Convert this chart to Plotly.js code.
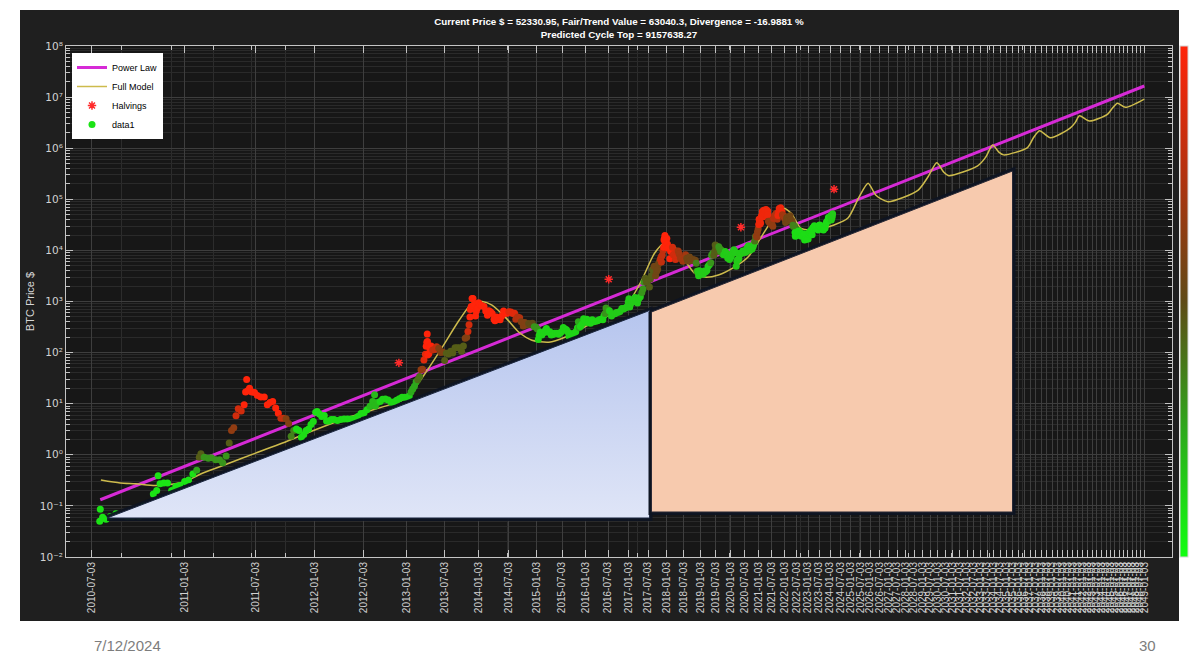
<!DOCTYPE html>
<html><head><meta charset="utf-8">
<script src="https://cdn.plot.ly/plotly-3.0.1.min.js"></script>
<style>html,body{margin:0;padding:0;background:#fff;}#chart{width:1199px;height:660px;}</style>
</head><body><div id="chart"></div>
<script>
const GENESIS = '2009-01-03';

const tickDates = ['2010-07-03','2011-01-03','2011-07-03','2012-01-03','2012-07-03','2013-01-03','2013-07-03','2014-01-03','2014-07-03','2015-01-03','2015-07-03','2016-01-03','2016-07-03','2017-01-03','2017-07-03','2018-01-03','2018-07-03','2019-01-03','2019-07-03','2020-01-03','2020-07-03','2021-01-03','2021-07-03','2022-01-03','2022-07-03','2023-01-03','2023-07-03','2024-01-03','2024-07-03','2025-01-03','2025-07-03','2026-01-03','2026-07-03','2027-01-03','2027-07-03','2028-01-03','2028-07-03','2029-01-03','2029-07-03','2030-01-03','2030-07-03','2031-01-03','2031-07-03','2032-01-03','2032-07-03','2033-01-03','2033-07-03','2034-01-03','2034-07-03','2035-01-03','2035-07-03','2036-01-03','2036-07-03','2037-01-03','2037-07-03','2038-01-03','2038-07-03','2039-01-03','2039-07-03','2040-01-03','2040-07-03','2041-01-03','2041-07-03','2042-01-03','2042-07-03','2043-01-03','2043-07-03','2044-01-03','2044-07-03','2045-01-03','2045-07-03','2046-01-03','2046-07-03','2047-01-03','2047-07-03','2048-01-03','2048-07-03','2049-01-03'];

const yTickVals = [1e-2,1e-1,1e0,1e1,1e2,1e3,1e4,1e5,1e6,1e7,1e8];
const yTickText = ['10⁻²','10⁻¹','10⁰','10¹','10²','10³','10⁴','10⁵','10⁶','10⁷','10⁸'];

const btcDates = [
'2010-07-17','2010-07-18','2010-07-22','2010-07-28','2010-08-05','2010-08-15','2010-08-25','2010-09-05','2010-09-15','2010-09-28','2010-10-07','2010-10-17','2010-10-27','2010-11-03','2010-11-06','2010-11-10','2010-11-18','2010-11-26','2010-12-05','2010-12-14','2010-12-23',
'2011-01-03','2011-01-12','2011-01-22','2011-01-31','2011-02-06','2011-02-10','2011-02-18','2011-02-28','2011-03-08','2011-03-18','2011-03-28','2011-04-05','2011-04-14','2011-04-22','2011-04-28','2011-05-04','2011-05-10','2011-05-16','2011-05-24','2011-06-01','2011-06-05','2011-06-08','2011-06-11','2011-06-16','2011-06-22','2011-06-30','2011-07-08','2011-07-18','2011-07-28','2011-08-06','2011-08-14','2011-08-22','2011-08-31','2011-09-08','2011-09-16','2011-09-24','2011-10-02','2011-10-10','2011-10-18','2011-10-26','2011-11-04','2011-11-12','2011-11-20','2011-11-28','2011-12-06','2011-12-14','2011-12-22','2011-12-30',
'2012-01-07','2012-01-12','2012-01-20','2012-01-28','2012-02-06','2012-02-14','2012-02-22','2012-03-02','2012-03-12','2012-03-24','2012-04-05','2012-04-18','2012-05-01','2012-05-14','2012-05-28','2012-06-10','2012-06-22','2012-07-04','2012-07-16','2012-07-28','2012-08-08','2012-08-16','2012-08-19','2012-08-28','2012-09-08','2012-09-18','2012-09-30','2012-10-12','2012-10-25','2012-11-06','2012-11-18','2012-11-30','2012-12-12','2012-12-24',
'2013-01-05','2013-01-14','2013-01-22','2013-01-30','2013-02-07','2013-02-15','2013-02-23','2013-03-03','2013-03-10','2013-03-17','2013-03-24','2013-03-31','2013-04-04','2013-04-07','2013-04-09','2013-04-10','2013-04-11','2013-04-14','2013-04-17','2013-04-22','2013-04-28','2013-05-06','2013-05-15','2013-05-25','2013-06-05','2013-06-15','2013-06-25','2013-07-05','2013-07-14','2013-07-25','2013-08-05','2013-08-16','2013-08-28','2013-09-08','2013-09-20','2013-10-02','2013-10-12','2013-10-22','2013-10-30','2013-11-06','2013-11-12','2013-11-17','2013-11-19','2013-11-24','2013-11-29','2013-12-04','2013-12-08','2013-12-12','2013-12-18','2013-12-23','2013-12-29',
'2014-01-05','2014-01-15','2014-01-25','2014-02-05','2014-02-15','2014-02-25','2014-03-05','2014-03-15','2014-03-25','2014-04-05','2014-04-11','2014-04-20','2014-05-01','2014-05-12','2014-05-22','2014-06-02','2014-06-12','2014-06-24','2014-07-05','2014-07-18','2014-07-30','2014-08-10','2014-08-18','2014-08-30','2014-09-12','2014-09-22','2014-10-05','2014-10-15','2014-10-28','2014-11-10','2014-11-22','2014-12-05','2014-12-18','2014-12-30',
'2015-01-08','2015-01-14','2015-01-20','2015-01-28','2015-02-08','2015-02-20','2015-03-05','2015-03-12','2015-03-25','2015-04-05','2015-04-15','2015-04-28','2015-05-10','2015-05-25','2015-06-08','2015-06-20','2015-07-01','2015-07-12','2015-07-25','2015-08-05','2015-08-18','2015-08-24','2015-09-05','2015-09-18','2015-10-01','2015-10-15','2015-10-28','2015-11-04','2015-11-11','2015-11-20','2015-12-02','2015-12-15','2015-12-28',
'2016-01-10','2016-01-16','2016-01-26','2016-02-08','2016-02-22','2016-03-05','2016-03-20','2016-04-05','2016-04-20','2016-05-05','2016-05-20','2016-05-30','2016-06-08','2016-06-16','2016-06-22','2016-07-01','2016-07-15','2016-08-02','2016-08-15','2016-09-01','2016-09-15','2016-10-01','2016-10-15','2016-11-01','2016-11-15','2016-12-01','2016-12-15','2016-12-28',
'2017-01-04','2017-01-11','2017-01-20','2017-02-01','2017-02-15','2017-03-01','2017-03-10','2017-03-24','2017-04-05','2017-04-20','2017-05-04','2017-05-15','2017-05-25','2017-06-06','2017-06-15','2017-06-25','2017-07-05','2017-07-16','2017-07-25','2017-08-05','2017-08-15','2017-08-25','2017-09-01','2017-09-14','2017-09-25','2017-10-05','2017-10-13','2017-10-22','2017-11-01','2017-11-08','2017-11-12','2017-11-20','2017-11-28','2017-12-05','2017-12-08','2017-12-12','2017-12-17','2017-12-22','2017-12-30',
'2018-01-06','2018-01-12','2018-01-17','2018-01-28','2018-02-06','2018-02-14','2018-02-20','2018-03-05','2018-03-15','2018-03-25','2018-04-06','2018-04-15','2018-04-24','2018-05-05','2018-05-15','2018-05-28','2018-06-10','2018-06-24','2018-07-10','2018-07-24','2018-08-05','2018-08-14','2018-08-28','2018-09-05','2018-09-12','2018-09-25','2018-10-10','2018-10-25','2018-11-08','2018-11-18','2018-11-25','2018-12-05','2018-12-15','2018-12-24',
'2019-01-05','2019-01-20','2019-02-05','2019-02-20','2019-03-05','2019-03-20','2019-04-03','2019-04-20','2019-05-05','2019-05-14','2019-05-28','2019-06-10','2019-06-20','2019-06-26','2019-07-02','2019-07-10','2019-07-20','2019-07-30','2019-08-08','2019-08-20','2019-08-30','2019-09-10','2019-09-25','2019-10-08','2019-10-26','2019-11-10','2019-11-25','2019-12-10','2019-12-18','2019-12-30',
'2020-01-10','2020-01-20','2020-02-01','2020-02-12','2020-02-25','2020-03-05','2020-03-12','2020-03-20','2020-04-01','2020-04-15','2020-04-29','2020-05-10','2020-05-25','2020-06-05','2020-06-20','2020-07-05','2020-07-20','2020-07-28','2020-08-10','2020-08-18','2020-09-01','2020-09-08','2020-09-20','2020-10-05','2020-10-20','2020-10-30','2020-11-10','2020-11-20','2020-12-01','2020-12-10','2020-12-17','2020-12-27',
'2021-01-03','2021-01-08','2021-01-15','2021-01-22','2021-01-30','2021-02-08','2021-02-15','2021-02-21','2021-02-28','2021-03-08','2021-03-13','2021-03-22','2021-04-01','2021-04-14','2021-04-25','2021-05-08','2021-05-12','2021-05-19','2021-05-30','2021-06-10','2021-06-22','2021-07-05','2021-07-20','2021-07-30','2021-08-14','2021-08-22','2021-09-06','2021-09-21','2021-10-01','2021-10-12','2021-10-20','2021-11-01','2021-11-10','2021-11-20','2021-11-30','2021-12-06','2021-12-20','2021-12-30',
'2022-01-10','2022-01-22','2022-02-05','2022-02-10','2022-02-24','2022-03-10','2022-03-29','2022-04-12','2022-04-30','2022-05-10','2022-05-20','2022-06-05','2022-06-13','2022-06-18','2022-07-01','2022-07-15','2022-07-30','2022-08-14','2022-08-25','2022-09-10','2022-09-20','2022-10-05','2022-10-25','2022-11-05','2022-11-09','2022-11-20','2022-12-05','2022-12-20',
'2023-01-05','2023-01-14','2023-01-25','2023-02-10','2023-02-16','2023-03-01','2023-03-10','2023-03-18','2023-04-01','2023-04-14','2023-04-28','2023-05-12','2023-05-28','2023-06-15','2023-06-23','2023-07-05','2023-07-13','2023-07-28','2023-08-17','2023-09-01','2023-09-11','2023-09-28','2023-10-10','2023-10-23','2023-11-01','2023-11-15','2023-11-28','2023-12-05','2023-12-15','2023-12-28',
'2024-01-08','2024-01-11','2024-01-23','2024-02-02','2024-02-09','2024-02-14'];

const btcPrices = [
0.05,0.086,0.06,0.055,0.062,0.07,0.065,0.061,0.062,0.062,0.10,0.10,0.17,0.2,0.39,0.27,0.28,0.28,0.2,0.24,0.25,
0.3,0.32,0.42,0.5, 0.9,1.05,0.9,0.86, 0.88,0.8,0.8, 0.7,0.95,1.7,3.0, 3.4,5.8,8,7.2, 9.5,17,29.6,18,20,17,16.5, 14.5,13.6,13.5, 9.5,10.5,11,8.2, 6.5,5.2,5.2, 5.1,4.1,2.3,3.0, 3.2,3.0,2.2,2.5, 3.0,3.2,3.9,4.5,
6.8,7,6.3,5.6, 5.9,4.6,4.6, 4.9,4.9,4.7, 4.9,5.0, 5.0,5.0,5.1, 5.6,6.4, 6.6,7.6,8.9, 11,15,9,10.6, 11,12.2,12.4, 11.8,10.7, 10.8,11.7,12.5, 13.3,13.4,
13.4,14.2,17,19.5, 22,27,29.5, 34,46,47,72,93, 133,160,230,165,90,95,95,120,135, 112,115,130, 121,100,103, 70,97,94, 106,98,125, 125,125, 106,135,190,200, 260,350,500,700,800,1150, 1140,800,880,520,650,750,
950,850,830, 800,650,540, 660,630,580, 450,420,500, 450,440,520, 650,590,590, 630,620,580, 590,450,500, 480,400, 330,390,350, 370,350, 375,320,315,
290,180,215,250, 220,245, 275,295,250, 255,220,225, 240,238, 228,245, 258,310,290, 280,250,210, 235,232, 237,255,305, 400,310,325, 360,460,420,
450,390,395, 375,440, 400,410, 420,440, 450,440,530, 580,750,600, 680,660, 520,570, 575,610, 615,640, 730,710, 750,780,975,
1130,780,900, 985,1000, 1200,1100,930, 1130,1240, 1500,1750,2400, 2850,2400,2550, 2600,1930,2750, 3200,4200,4350, 4900,3200,3900, 4300,5400,6000, 6700,7400,5900,8000,9900, 11500,16000,17000,19500,13800,12600,
17100,13400,11200,11500, 6900,9500,11200, 11500,8200,8500, 6600,8000,9600, 9700,8500,7100, 6800,6100, 6400,8200, 7000,6200,7100, 7400,6300,6500, 6600,6500, 6400,5600,3900, 3900,3200,4000,
3800,3600, 3400,3950, 3800,4050, 4900,5300, 5700,8000,8700, 8000,9500,12800, 10600,12300,10500,9500, 11800,10800,9600, 10100,8400, 8200,9500, 8800,7100, 7300,6600,7200,
7800,8700, 9400,10300,9300, 9000,4900,6200, 6600,6900,8800, 8700,8800, 9700,9300, 9100,9400,11000, 11800,12300, 11900,10100,10900, 10700,11900,13600, 15300,18700, 19200,18300,22800,26300,
32000,40600,36800,33000,34300, 46200,48700,57500,45100, 52300,61200,54500, 58700,63500,49000, 58900,49500,37000,35600, 37000,32500, 34000,29800,42000, 47000,49300, 52700,40600, 48000,57000,66000, 61000,68000,59000,57000, 50000,46600,47100,
41800,35000, 41500,44000,38300, 39000,47400, 40000,37700, 31000,29200, 29900,22500,19000, 19300,20800,23600, 24300,21500, 21700,18900, 20300,19300, 21200,16000,16300, 17100,16800,
16800,20900,23000, 21800,24500, 23600,20200,27400, 28500,30400,29300, 26800,28000, 25100,30500, 30500,31400,29300, 26600, 25900,25100,27000, 27400,33000, 35400,37800,37800, 44000,43000,42600,
47000,46600,39500,43200,47100,52300];

// colour (divergence): start date of each segment and its value (0 green .. 1 red)
const heatStart = ['2010-07-01','2011-01-25','2011-02-04','2011-02-16','2011-04-18','2011-04-26','2011-05-08','2011-05-30','2011-09-10','2011-10-01','2011-10-16','2011-11-01','2012-07-25','2012-09-01','2013-01-20','2013-02-20','2013-03-08','2013-03-22','2013-04-03','2013-05-01','2013-06-01','2013-07-01','2013-10-15','2013-11-05','2013-11-15','2014-07-01','2014-08-15','2014-09-20','2014-11-01','2014-12-10','2015-01-10','2015-11-01','2015-11-15','2016-06-01','2016-07-10','2017-05-01','2017-06-01','2017-09-01','2017-11-01','2017-12-01','2018-03-01','2018-05-01','2018-08-01','2018-11-15','2018-12-01','2019-05-01','2019-06-01','2019-08-01','2019-10-01','2020-11-01','2020-12-01','2021-01-01','2021-05-15','2021-07-25','2021-10-01','2021-12-01','2022-01-15','2022-05-01','2022-06-10','2024-01-01'];
const heatValue = [0.08,0.25,0.45,0.3,0.45,0.65,0.85,1.0,0.8,0.6,0.35,0.1,0.2,0.12,0.25,0.4,0.65,0.9,1.0,0.8,0.6,0.45,0.6,0.85,1.0,0.9,0.75,0.6,0.5,0.3,0.12,0.25,0.12,0.3,0.15,0.3,0.45,0.55,0.8,1.0,0.85,0.7,0.55,0.35,0.15,0.3,0.45,0.3,0.15,0.4,0.65,0.95,0.65,0.75,0.95,0.7,0.55,0.35,0.1,0.15];

// power law (days since genesis, price)
const powerDays = [561, 14610];
const powerPrices = [0.132, 1.65e7];

// full model curve (days since genesis, price)
const modelDays = [562,597,627,667,726,773,840,911,991,1098,1222,1383,1441,1500,1557,1632,1720,1792,1848,1906,1985,2073,2159,2276,2393,2523,2660,2796,2921,3041,3166,3266,3371,3477,3586,3701,3865,4062,4243,4419,4601,4732,4852,5005,5277,5545,5792,5995,6167,6320,6562,7205,7430,7642,7810,7934,8682,8900,9099,9268,9417,10146,10335,10534,10900,11600,11780,11930,12308,13020,13215,13435,13774,14610];
const modelPrices = [0.32,0.28,0.27,0.25,0.29,0.44,0.69,1.08,1.7,3.1,5.5,9.5,11.8,21,45,128,430,930,1000,850,500,250,175,160,200,300,430,610,970,2600,8800,14000,11700,6500,3600,3000,3300,4700,7500,18400,45000,67000,53000,27000,26000,31500,43000,110000,207000,120000,90000,150000,270000,520000,340000,290000,450000,660000,1160000,850000,740000,1030000,1600000,2200000,1600000,2500000,3200000,4300000,3400000,4600000,6000000,7600000,6300000,9160000];

const halvingDates = ['2012-11-28','2016-07-09','2020-05-11','2024-03-10'];
const halvingPrices = [63, 2720, 28300, 158000];

// slide overlays (days since genesis, price)
const triDays = [573, 3117, 3117];
const triPrices = [0.058, 667, 0.058];
const peachDays = [3136, 9681, 9681, 3136];
const peachPrices = [623, 358000, 0.076, 0.076];

const g0 = Date.parse(GENESIS);
const toDays = d => (Date.parse(d) - g0) / 86400000;
const btcX = btcDates.map(toDays);
const heatX = heatStart.map(toDays);
const btcHeat = btcX.map(x => { let v = heatValue[0]; for (let i = 0; i < heatX.length; i++) { if (heatX[i] <= x) v = heatValue[i]; } return v; });
const tickVals = tickDates.map(toDays);

const xMinor = [600,700,800,900,1000,2000,3000,4000,5000,6000,7000,8000,9000,10000];
const yMinor = [];
for (let e = -2; e < 8; e++) for (let k = 2; k <= 9; k++) yMinor.push(k * Math.pow(10, e));

const closeRing = a => a.concat([a[0]]);

const heatScale = [[0,'#12ff12'],[0.25,'#2ea81c'],[0.5,'#5f4a16'],[0.75,'#b3320f'],[1,'#ff240a']];

const traces = [
  {type:'scatter', mode:'lines', name:'Power Law', x:powerDays, y:powerPrices,
   line:{color:'#d62ad6', width:3}, hoverinfo:'skip'},
  {type:'scatter', mode:'lines', name:'Full Model', x:modelDays, y:modelPrices,
   line:{color:'#cdbb4c', width:1.5, shape:'spline', smoothing:0.7}, hoverinfo:'skip'},
  {type:'scatter', mode:'markers', name:'Halvings', x:halvingDates.map(toDays), y:halvingPrices,
   marker:{symbol:'asterisk-open', size:7, color:'#ff2b2b', line:{color:'#ff2b2b', width:1.5}}},
  {type:'scatter', mode:'markers', name:'data1', x:btcX, y:btcPrices,
   marker:{size:7, color:btcHeat, cmin:0, cmax:1, colorscale:heatScale,
     colorbar:{x:(1180-66)/1106, xref:'paper', xanchor:'left', y:0, yref:'paper', yanchor:'bottom',
       len:1, lenmode:'fraction', thickness:8, thicknessmode:'pixels', outlinewidth:1, outlinecolor:'#d6d6d6',
       showticklabels:false, ticks:'', xpad:0, ypad:0, borderwidth:0, bgcolor:'rgba(0,0,0,0)'}}},
  {type:'scatter', mode:'lines', x:closeRing(triDays), y:closeRing(triPrices), showlegend:false, hoverinfo:'skip',
   line:{color:'rgba(14,20,34,0.95)', width:6}},
  {type:'scatter', mode:'lines', x:closeRing(triDays), y:closeRing(triPrices), fill:'toself', showlegend:false, hoverinfo:'skip',
   fillcolor:'#cdd7f2', fillgradient:{type:'vertical', colorscale:[[0,'#dfe5f7'],[1,'#b6c5ee']]},
   line:{color:'#1d2840', width:1}},
  {type:'scatter', mode:'lines', x:closeRing(peachDays), y:closeRing(peachPrices), showlegend:false, hoverinfo:'skip',
   line:{color:'rgba(14,20,34,0.95)', width:6}},
  {type:'scatter', mode:'lines', x:closeRing(peachDays), y:closeRing(peachPrices), fill:'toself', showlegend:false, hoverinfo:'skip',
   fillcolor:'#f7caae', line:{color:'#2a2a36', width:1}}
];

const axisCommon = {
  showline:true, linecolor:'#c4c4c4', linewidth:1, mirror:'allticks',
  ticks:'inside', ticklen:7, tickcolor:'#c4c4c4', tickwidth:1,
  showgrid:true, gridcolor:'#3e3e3e', gridwidth:1, zeroline:false, automargin:false,
  tickfont:{family:'Liberation Sans, DejaVu Sans, Arial, sans-serif', size:10, color:'#d2d2d2'}
};

const layout = {
  width:1199, height:660,
  margin:{l:66, r:27, t:46, b:103, pad:0, autoexpand:false},
  paper_bgcolor:'#ffffff', plot_bgcolor:'#171717',
  font:{family:'Liberation Sans, Arial, sans-serif', color:'#d2d2d2'},
  title:{text:'Current Price $ = 52330.95, Fair/Trend Value = 63040.3, Divergence = -16.9881 %<br>Predicted Cycle Top = 9157638.27',
    font:{family:'Liberation Sans, Arial, sans-serif', size:9.8, color:'#ffffff', weight:'bold'},
    x:0.5, xref:'paper', xanchor:'center', y:1-25/660, yref:'container', yanchor:'bottom', pad:{b:0, t:0, l:0, r:0}, automargin:false},
  xaxis: Object.assign({}, axisCommon, {type:'log', range:[Math.log10(504), Math.log10(15930)],
    tickmode:'array', tickvals:tickVals, ticktext:tickDates, tickangle:-90,
    minor:{tickmode:'array', tickvals:xMinor, ticks:'inside', ticklen:4, tickcolor:'#c4c4c4', showgrid:true, gridcolor:'#2c2c2c'}}),
  yaxis: Object.assign({}, axisCommon, {type:'log', range:[-2, 8],
    tickmode:'array', tickvals:yTickVals, ticktext:yTickText,
    tickfont:{family:'DejaVu Sans, Liberation Sans, Arial, sans-serif', size:10.5, color:'#d2d2d2'},
    minor:{tickmode:'array', tickvals:yMinor, ticks:'inside', ticklen:4, tickcolor:'#c4c4c4', showgrid:true, gridcolor:'#2a2a2a'},
    title:{text:'BTC Price $', font:{size:11, color:'#d6d6d6'}, standoff:2}}),
  showlegend:true,
  legend:{x:(72-66)/1106, y:(557-53)/511, xanchor:'left', yanchor:'top', bgcolor:'#ffffff', borderwidth:0,
    font:{family:'Liberation Sans, Arial, sans-serif', size:9, color:'#000000'}, itemwidth:30, tracegroupgap:0},
  shapes:[
    {type:'rect', xref:'paper', yref:'paper', x0:(20-66)/1106, x1:(1179-66)/1106, y0:(557-621)/511, y1:(557-10)/511,
     fillcolor:'#1f1f1f', line:{width:0}, layer:'below'},
    {type:'rect', xref:'paper', yref:'paper', x0:0, x1:1, y0:0, y1:1, fillcolor:'#171717', line:{width:0}, layer:'below'}
  ],
  annotations:[
    {text:'7/12/2024', xref:'paper', yref:'paper', x:(92-66)/1106, y:(557-645)/511, xanchor:'left', yanchor:'middle', showarrow:false,
     font:{family:'Liberation Sans, Arial, sans-serif', size:15, color:'#7d7d7d'}},
    {text:'30', xref:'paper', yref:'paper', x:(1158-66)/1106, y:(557-645)/511, xanchor:'right', yanchor:'middle', showarrow:false,
     font:{family:'Liberation Sans, Arial, sans-serif', size:15, color:'#7d7d7d'}}
  ]
};

Plotly.newPlot('chart', traces, layout, {displayModeBar:false, staticPlot:true});
</script></body></html>
